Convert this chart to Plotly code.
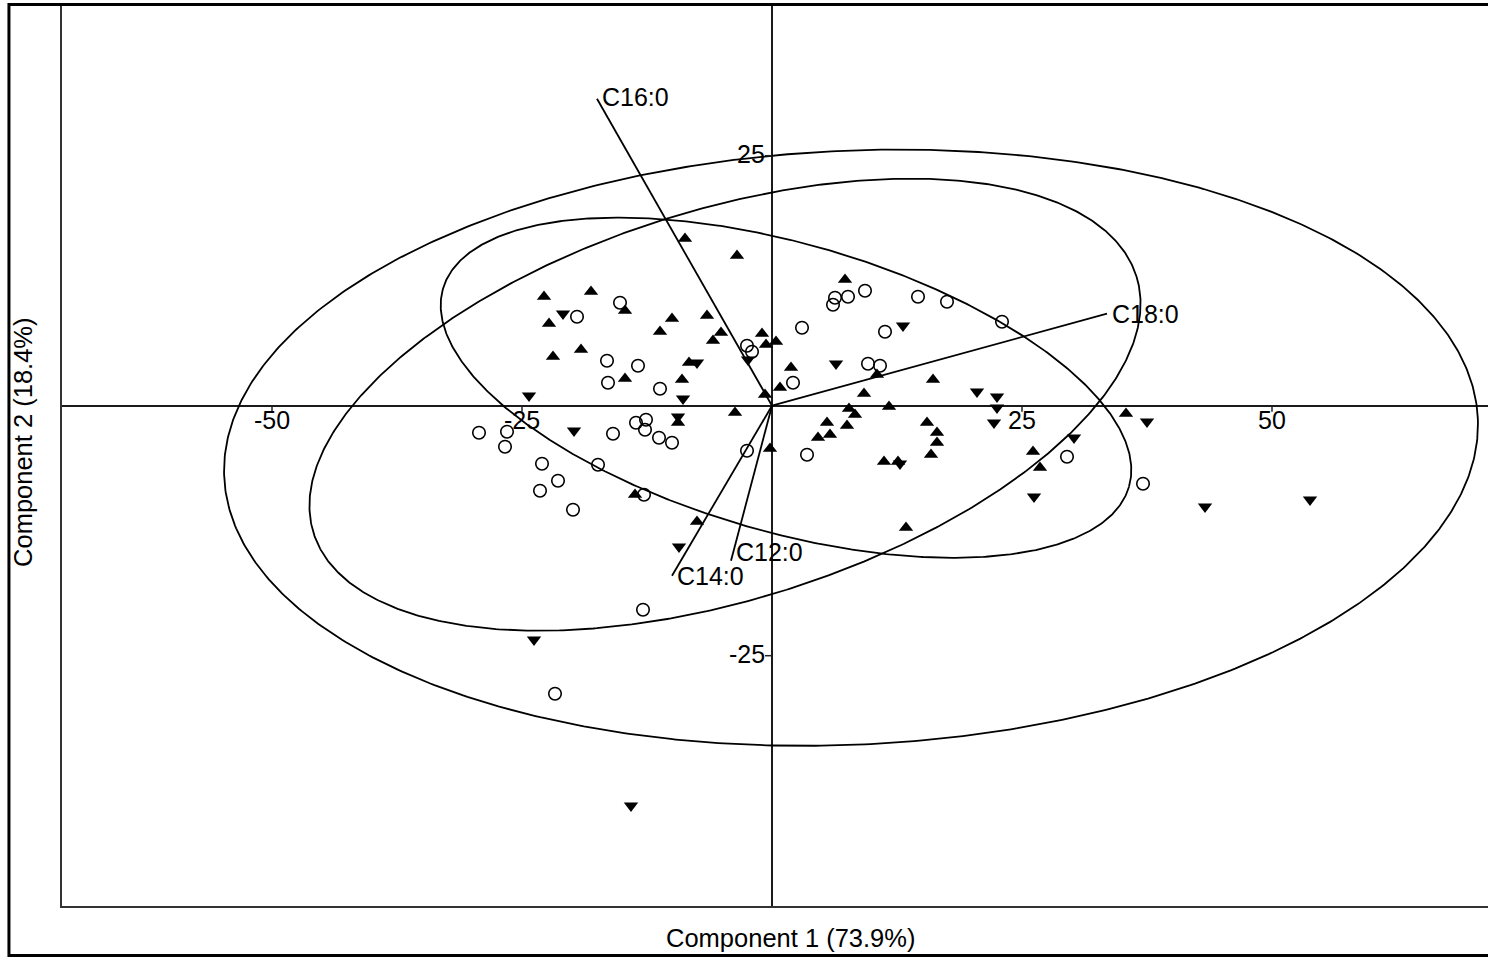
import numpy as np
import plotly.graph_objects as go

# ---------------- data ----------------
# group 1: open circles
circ_x = [-15.2, -19.5, 3.0, -16.5, -13.4, -16.4, -11.2, -2.5, -2.0, 2.1,
          -29.3, -26.5, -26.7, -15.9, -13.6, -12.6, -12.7, -11.3, -10.0, -2.5,
          3.5, -23.0, -21.4, -23.2, -19.9, -17.4, -12.8, -12.9, 6.3, 6.1,
          7.6, 9.3, 14.6, 17.5, 23.0, 11.3, 9.6, 10.8, 29.5, 37.1, -21.7]
circ_y = [10.3, 8.9, 7.8, 4.5, 4.0, 2.3, 1.7, 6.0, 5.4, 2.3,
          -2.7, -2.6, -4.1, -2.8, -1.7, -1.4, -2.4, -3.2, -3.7, -4.5,
          -4.9, -5.8, -7.5, -8.5, -10.4, -5.9, -8.9, -20.4, 10.8, 10.1,
          10.9, 11.5, 10.9, 10.4, 8.4, 7.4, 4.2, 4.0, -5.1, -7.8, -28.8]

# group 2: filled up-triangles
up_x = [-8.7, -3.5, 7.3, -22.8, -18.1, -14.7, -22.3, -10.0, -6.5, -11.2,
        -5.1, -5.9, -1.0, -0.6, 0.4, -19.1, -21.9, -14.7, -9.0, -8.3,
        1.9, 0.8, -0.7, -3.7, -9.4, -0.2, 10.5, 9.2, 16.1, 7.7,
        8.3, 11.7, 5.5, 7.5, 5.8, 4.6, 15.5, 16.5, 16.5, 15.9,
        11.2, 12.6, 13.4, 26.1, 26.8, 35.4, -13.7, -7.5]
up_y = [16.7, 15.0, 12.6, 10.9, 11.4, 9.5, 8.2, 8.7, 9.0, 7.4,
        7.3, 6.5, 7.2, 6.1, 6.4, 5.6, 4.9, 2.7, 2.6, 4.3,
        3.8, 1.8, 1.1, -0.7, -1.7, -4.3, 3.1, 1.2, 2.6, -0.3,
        -0.9, -0.1, -1.7, -2.0, -2.9, -3.2, -1.7, -2.7, -3.7, -4.9,
        -5.6, -5.6, -12.2, -4.6, -6.2, -0.8, -8.9, -11.6]

# group 3: filled down-triangles
down_x = [-20.9, -7.5, -2.4, -8.9, -24.3, -19.8, -9.4, -9.3, 13.1, 6.4,
          20.5, 22.5, 22.5, 22.2, 37.5, 30.2, 12.8, 26.2, 43.3, 53.8,
          -23.8, -14.1]
down_y = [9.2, 4.3, 4.6, 0.7, 1.0, -2.5, -1.1, -14.1, 8.0, 4.2,
          1.4, 0.9, -0.2, -1.7, -1.6, -3.2, -5.8, -9.1, -10.1, -9.4,
          -23.4, -40.0]

# loading vectors
load_names = ["C16:0", "C18:0", "C14:0", "C12:0"]
load_x = [-17.5, 33.5, -10.0, -4.1]
load_y = [30.7, 9.2, -17.0, -15.5]

# confidence ellipses: centre, semi-axes, rotation (degrees)
ell_cx = [7.9, -4.7, 1.4]
ell_cy = [-4.2, 0.1, 1.8]
ell_a = [62.75, 43.1, 35.7]
ell_b = [29.7, 19.5, 14.4]
ell_ang = [2.7, 17.3, -16.1]

# axis ticks
xtick_vals = [-50, -25, 25, 50]
xtick_text = ["-50", "-25", "25", "50"]
ytick_vals = [25, -25]
ytick_text = ["25", "-25"]

x_title = "Component 1 (73.9%)"
y_title = "Component 2 (18.4%)"

# ---------------- figure ----------------
FONT = "Liberation Sans, Arial, sans-serif"
FS = 25
fig = go.Figure()

t = np.linspace(0, 2 * np.pi, 721)
for cx, cy, a, b, ang in zip(ell_cx, ell_cy, ell_a, ell_b, ell_ang):
    th = np.deg2rad(ang)
    ex = cx + a * np.cos(t) * np.cos(th) - b * np.sin(t) * np.sin(th)
    ey = cy + a * np.cos(t) * np.sin(th) + b * np.sin(t) * np.cos(th)
    fig.add_trace(go.Scatter(x=ex, y=ey, mode="lines",
                             line=dict(color="black", width=1.8),
                             hoverinfo="skip", showlegend=False))

for name, lx, ly in zip(load_names, load_x, load_y):
    fig.add_trace(go.Scatter(x=[0, lx], y=[0, ly], mode="lines",
                             line=dict(color="black", width=1.8),
                             hoverinfo="skip", showlegend=False))

fig.add_trace(go.Scatter(x=circ_x, y=circ_y, mode="markers", showlegend=False,
                         marker=dict(symbol="circle-open", size=12.5, color="black",
                                     line=dict(width=1.6, color="black"))))
fig.add_trace(go.Scatter(x=up_x, y=up_y, mode="markers", showlegend=False,
                         marker=dict(symbol="triangle-up", size=12.5, color="black",
                                     line=dict(width=0))))
fig.add_trace(go.Scatter(x=down_x, y=down_y, mode="markers", showlegend=False,
                         marker=dict(symbol="triangle-down", size=12.5, color="black",
                                     line=dict(width=0))))

annotations = []
label_yshift = {"C16:0": 2, "C18:0": 0, "C14:0": 0, "C12:0": 9}
for name, lx, ly in zip(load_names, load_x, load_y):
    annotations.append(dict(x=lx, y=ly, xref="x", yref="y", text=name,
                            showarrow=False, xanchor="left", yanchor="middle",
                            xshift=3, yshift=label_yshift[name],
                            font=dict(family=FONT, size=FS, color="black")))

shapes = []
for v, txt in zip(xtick_vals, xtick_text):
    shapes.append(dict(type="line", xref="x", yref="y", x0=v, x1=v,
                       ysizemode="pixel", yanchor=0, y0=0, y1=-6,
                       line=dict(color="#222", width=1.5)))
    annotations.append(dict(x=v, y=0, xref="x", yref="y", text=txt,
                            showarrow=False, xanchor="center", yanchor="middle",
                            yshift=-14, font=dict(family=FONT, size=FS, color="black")))
for v, txt in zip(ytick_vals, ytick_text):
    shapes.append(dict(type="line", xref="x", yref="y", y0=v, y1=v,
                       xsizemode="pixel", xanchor=0, x0=-7, x1=0,
                       line=dict(color="#222", width=1.5)))
    annotations.append(dict(x=0, y=v, xref="x", yref="y", text=txt,
                            showarrow=False, xanchor="right", yanchor="middle",
                            xshift=-5, yshift=2, font=dict(family=FONT, size=FS, color="black")))

# axis titles
annotations.append(dict(x=0.5112, y=-0.0355, xref="paper", yref="paper", text=x_title,
                        showarrow=False, xanchor="center", yanchor="middle",
                        font=dict(family=FONT, size=25.5, color="black")))
annotations.append(dict(x=-0.0273, y=0.514, xref="paper", yref="paper", text=y_title,
                        showarrow=False, xanchor="center", yanchor="middle", textangle=-90,
                        font=dict(family=FONT, size=25.5, color="black")))

# outer frame
shapes.append(dict(type="rect", xref="paper", yref="paper",
                   x0=-0.0372, x1=1.05, y0=-0.0549, y1=1.0006,
                   line=dict(color="black", width=3), layer="above"))

fig.update_layout(
    width=1488, height=957,
    margin=dict(l=62, r=0, t=5, b=51, pad=0),
    paper_bgcolor="white", plot_bgcolor="white",
    xaxis=dict(range=[-71.0, 71.6], showgrid=False, zeroline=True,
               zerolinecolor="#1a1a1a", zerolinewidth=1.8,
               showline=True, linecolor="#333", linewidth=2,
               showticklabels=False, ticks=""),
    yaxis=dict(range=[-50.03, 40.07], showgrid=False, zeroline=True,
               zerolinecolor="#1a1a1a", zerolinewidth=1.8,
               showline=True, linecolor="#333", linewidth=2,
               showticklabels=False, ticks=""),
    shapes=shapes, annotations=annotations,
    font=dict(family=FONT, size=FS, color="black"),
)

fig.write_html("out.html", config={"responsive": False, "displayModeBar": False},
               post_script="document.body.style.margin='0';document.body.style.overflow='hidden';")
